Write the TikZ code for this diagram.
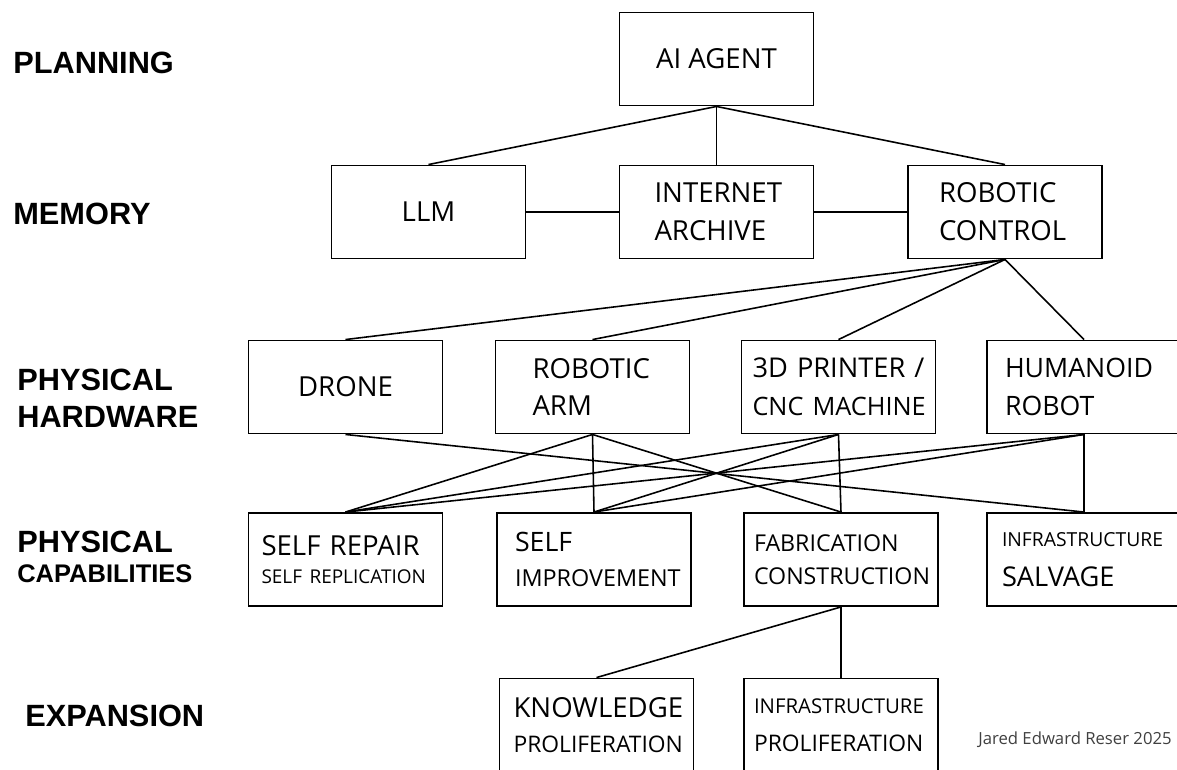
\documentclass[tikz,border=0pt]{standalone}
\usepackage{fontspec}
\usepackage{tikz}
\newfontfamily\boxfont{Open Sans}
\newfontfamily\levelfont{Liberation Sans}
\newcommand{\fs}[2]{\fontsize{#1}{#2}\selectfont}
\hyphenpenalty=10000
\exhyphenpenalty=10000

\begin{document}
\begin{tikzpicture}[x=0.02cm,y=-0.02cm,
    box/.style={draw,line width=1.1pt,minimum width=3.88cm,minimum height=1.86cm,
      inner sep=0pt,font=\boxfont\fs{15.7}{21.6}},
    size/.style 2 args={font=\boxfont\fs{#1}{#2}},
    level/.style={anchor=west,align=left,inner sep=0pt,
      font=\levelfont\bfseries\fs{17.5}{21}},
    link/.style={line width=0.9pt}]
\useasboundingbox (0,0) rectangle (1177,769);

% levels on the left
\node[level] (planning) at (13,62.5) {PLANNING};
\node[level] (memory) at (13,213.5) {MEMORY};
\node[level] (hardware) at (17,398) {PHYSICAL\\HARDWARE};
\node[level] (capabilities) at (17,557) {PHYSICAL\\[-4pt]{\fs{14.5}{17}CAPABILITIES}};
\node[level] (expansion) at (25,716) {EXPANSION};

% planning and memory
\node[box] (agent) at (716.5,59) {AI AGENT};
\node[box] (llm) at (428.5,212) {LLM};
\node[box,align=left,inner xsep=0.7cm,text width=2.48cm] (archive) at (716.5,212) {INTERNET\\ARCHIVE};
\node[box,align=left,inner xsep=0.62cm,text width=2.64cm] (control) at (1005,212) {ROBOTIC\\CONTROL};

% hardware
\node[box] (drone) at (345.5,387) {DRONE};
\node[box,align=left,inner xsep=0.74cm,text width=2.4cm] (arm) at (592.5,387) {ROBOTIC\\ARM};
\node[box,align=left,inner xsep=0.22cm,text width=3.44cm,size={15.5}{21.6}] (printer) at (838.5,387)
  {\mbox{3D PRINTER /}\\\mbox{\fs{14.4}{21.6}CNC MACHINE}};
\node[box,align=left,inner xsep=0.36cm,text width=3.16cm,size={15.2}{21.6}] (humanoid) at (1084,387) {HUMANOID\\ROBOT};

% capabilities
\node[box,align=left,inner xsep=0.26cm,text width=3.36cm,size={15.7}{15.85}] (repair) at (345.5,559.5)
  {\mbox{SELF REPAIR}\\\mbox{\fs{10.8}{15.85}SELF\kern-1pt\ REPLICATION}};
\node[box,align=left,inner xsep=0.36cm,text width=3.16cm,size={15.2}{20.3}] (improve) at (594,559.5)
  {SELF\\{\fs{13.3}{20.3}IMPROVEMENT}};
\node[box,align=left,inner xsep=0.2cm,text width=3.48cm,size={13.2}{18.8}] (fabric) at (841,559.5)
  {FABRICATION\\CONSTRUCTION};
\node[box,align=left,inner xsep=0.3cm,text width=3.28cm,size={11}{22.6}] (salvage) at (1084,559.5)
  {INFRASTRUCTURE\\{\fs{15.5}{22.6}SALVAGE}};

% expansion
\node[box,align=left,inner xsep=0.28cm,text width=3.32cm,size={15.7}{20}] (knowledge) at (596.5,725)
  {KNOWLEDGE\\{\fs{13}{20}PROLIFERATION}};
\node[box,align=left,inner xsep=0.2cm,text width=3.48cm,size={11.6}{21.5}] (prolif) at (841,725)
  {INFRASTRUCTURE\\{\fs{13}{21.5}PROLIFERATION}};

\node[anchor=west,inner sep=0pt,font=\boxfont\fs{9.5}{12},text=black!75] (credit) at (978,740)
  {Jared Edward Reser 2025};

\draw[link] (llm.east) -- (archive.west);
\draw[link] (archive.east) -- (control.west);
\foreach \a/\b in {agent/llm,agent/archive,agent/control,
    control/drone,control/arm,control/printer,control/humanoid,
    drone/salvage,arm/repair,arm/improve,arm/fabric,
    printer/repair,printer/improve,printer/fabric,
    humanoid/repair,humanoid/improve,humanoid/salvage,
    fabric/knowledge,fabric/prolif}
  \draw[link] (\a.south) -- (\b.north);
\end{tikzpicture}
\end{document}
